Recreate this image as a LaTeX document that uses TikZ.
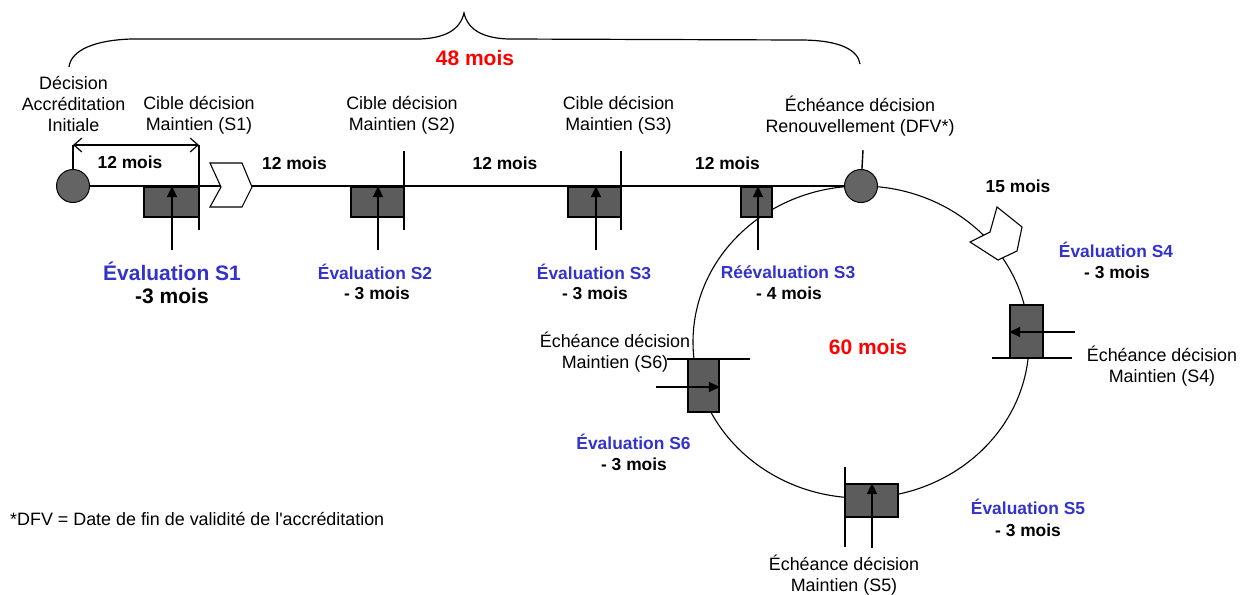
\documentclass[tikz,border=0pt]{standalone}
\usepackage{fontspec}
\setmainfont{Liberation Sans}
\usetikzlibrary{arrows.meta}
\definecolor{evblue}{RGB}{51,51,204}
\definecolor{boxgray}{RGB}{92,92,92}
\definecolor{dotgray}{RGB}{100,100,100}
\begin{document}
\begin{tikzpicture}[x=1pt,y=-1pt,
 txt/.style={font=\fontsize{17.9}{21}\selectfont, align=center, inner sep=0pt},
 btxt/.style={font=\fontsize{17.4}{21}\selectfont\bfseries, align=center, inner sep=0pt},
 evtxt/.style={btxt, text=evblue},
 bigev/.style={font=\fontsize{21}{25}\selectfont\bfseries, text=evblue, inner sep=0pt},
 bigtxt/.style={font=\fontsize{21}{25}\selectfont\bfseries, inner sep=0pt},
 redtxt/.style={font=\fontsize{21}{25}\selectfont\bfseries, text=red, inner sep=0pt},
 evbox/.style={draw, line width=1.8pt, fill=boxgray, inner sep=0pt},
 dot/.style={circle, draw, line width=1pt, fill=dotgray, minimum size=33pt, inner sep=0pt},
 tickline/.style={line width=1.4pt},
 arr/.style={line width=1.4pt, -{Triangle[length=11pt,width=10pt]}},
 cyc/.style={line width=1.1pt},
 chev/.style={line width=1.1pt, fill=white},
 brace/.style={line width=1.2pt}
]
\fill[white] (0,0) rectangle (1246,594);
\useasboundingbox (0,0) rectangle (1246,594);

% cycle of 60 months
\draw[cyc] (861,342) ellipse [x radius=168pt, y radius=156pt];

% brace (48 mois)
\draw[brace] (69,67) .. controls (71,50) and (95,40) .. (132,39) -- (420,39)
  .. controls (445,38) and (460,30) .. (464,13)
  .. controls (468,30) and (483,38) .. (508,39) -- (800,40)
  .. controls (840,40) and (858,50) .. (860,64);

% dots
\node[dot] (d0) at (73,186) {};
\node[dot] (d1) at (861,186) {};

% main line
\draw[tickline] (d0) -- (d1);

% coordinates
\coordinate (t0) at (73,145);
\coordinate (t1a) at (199,145);
\coordinate (t1b) at (199,230);
\coordinate (t2a) at (404,151);
\coordinate (t2b) at (404,230);
\coordinate (t3a) at (621,151);
\coordinate (t3b) at (621,230);
\coordinate (t4) at (863,150);

% ticks
\draw[tickline] (t0) -- (d0);
\draw[tickline] (t4) -- (d1);

% double arrow 12 mois
\draw[line width=1.2pt, {Straight Barb[length=8pt,width=14pt]}-{Straight Barb[length=8pt,width=14pt]}] (t0) -- (t1a);

% boxes on main line
\node[evbox, minimum width=55pt, minimum height=30pt] (b1) at (171.5,202) {};
\node[evbox, minimum width=53pt, minimum height=30pt] (b2) at (377.5,202) {};
\node[evbox, minimum width=53pt, minimum height=30pt] (b3) at (594.5,202) {};
\node[evbox, minimum width=31pt, minimum height=30pt] (br) at (756.5,202) {};
\draw[tickline] (t1a) -- (t1b);
\draw[tickline] (t2a) -- (t2b);
\draw[tickline] (t3a) -- (t3b);

% arrows to boxes
\coordinate (a1) at (172,250);
\coordinate (a2) at (378,250);
\coordinate (a3) at (596,250);
\coordinate (ar) at (758,250);
\draw[arr] (a1) -- (a1 |- b1.north);
\draw[arr] (a2) -- (a2 |- b2.north);
\draw[arr] (a3) -- (a3 |- b3.north);
\draw[arr] (ar) -- (ar |- br.north);

% chevrons
\draw[chev] (210,163) -- (242,163) -- (252,187) -- (242,207) -- (210,207) -- (221,187) -- cycle;
\draw[chev] (997,207) -- (1022,227) -- (1017,251) -- (998,260) -- (970,242) -- (990,232) -- cycle;

% boxes on the cycle
\node[evbox, minimum width=33pt, minimum height=53pt] (b4) at (1026.5,331.5) {};
\coordinate (h4a) at (992,358);
\coordinate (h4b) at (1072,358);
\draw[tickline] (h4a) -- (h4b);
\coordinate (a4) at (1075,332);
\draw[arr] (a4) -- (a4 -| b4.west);

\node[evbox, minimum width=53pt, minimum height=33pt] (b5) at (871.5,500.5) {};
\coordinate (v5a) at (845,467);
\coordinate (v5b) at (845,547);
\draw[tickline] (v5a) -- (v5b);
\coordinate (a5) at (872,548);
\draw[arr] (a5) -- (a5 |- b5.north);

\node[evbox, minimum width=31pt, minimum height=53pt] (b6) at (703.5,385.5) {};
\coordinate (h6a) at (667,359);
\coordinate (h6b) at (750,359);
\draw[tickline] (h6a) -- (h6b);
\coordinate (a6) at (656,387);
\draw[arr] (a6) -- (a6 -| b6.east);

% texts
\node[txt] (ldec) at (73.5,104) {Décision\\Accréditation\\Initiale};
\node[txt] (lc1) at (199,115.5) {Cible décision\\Maintien (S1)};
\node[txt] (lc2) at (402,115.5) {Cible décision\\Maintien (S2)};
\node[txt] (lc3) at (618.5,115.5) {Cible décision\\Maintien (S3)};
\node[txt] (lren) at (860,116) {Échéance décision\\Renouvellement (DFV*)};

\node[btxt] (m1) at (130,162) {12 mois};
\node[btxt] (m2) at (294.5,163) {12 mois};
\node[btxt] (m3) at (505,163) {12 mois};
\node[btxt] (m4) at (727.5,163) {12 mois};
\node[redtxt] (m48) at (475,58) {48 mois};

\node[bigev] (e1) at (172,271) {Évaluation S1};
\node[bigtxt] (e1m) at (172,296) {-3 mois};
\node[evtxt] (e2) at (375,272) {Évaluation S2};
\node[btxt] (e2m) at (377,293) {- 3 mois};
\node[evtxt] (e3) at (594,272) {Évaluation S3};
\node[btxt] (e3m) at (595,293) {- 3 mois};
\node[evtxt] (er) at (788,272) {Réévaluation S3};
\node[btxt] (erm) at (789,293) {- 4 mois};

\node[btxt] (m15) at (1018,186) {15 mois};
\node[evtxt] (e4) at (1116,250) {Évaluation S4};
\node[btxt] (e4m) at (1117,272) {- 3 mois};
\node[txt] (l4) at (1162,366) {Échéance décision\\Maintien (S4)};

\node[redtxt] (m60) at (868,347) {60 mois};

\node[txt] (l6) at (615,352.5) {Échéance décision\\Maintien (S6)};
\node[evtxt] (e6) at (633.5,442) {Évaluation S6};
\node[btxt] (e6m) at (634,464) {- 3 mois};

\node[txt] (l5) at (844,575) {Échéance décision\\Maintien (S5)};
\node[evtxt] (e5) at (1028,507) {Évaluation S5};
\node[btxt] (e5m) at (1028,530) {- 3 mois};

\node[txt, anchor=west] (note) at (10,519) {*DFV = Date de fin de validité de l\textquotesingle accréditation};
\end{tikzpicture}
\end{document}
